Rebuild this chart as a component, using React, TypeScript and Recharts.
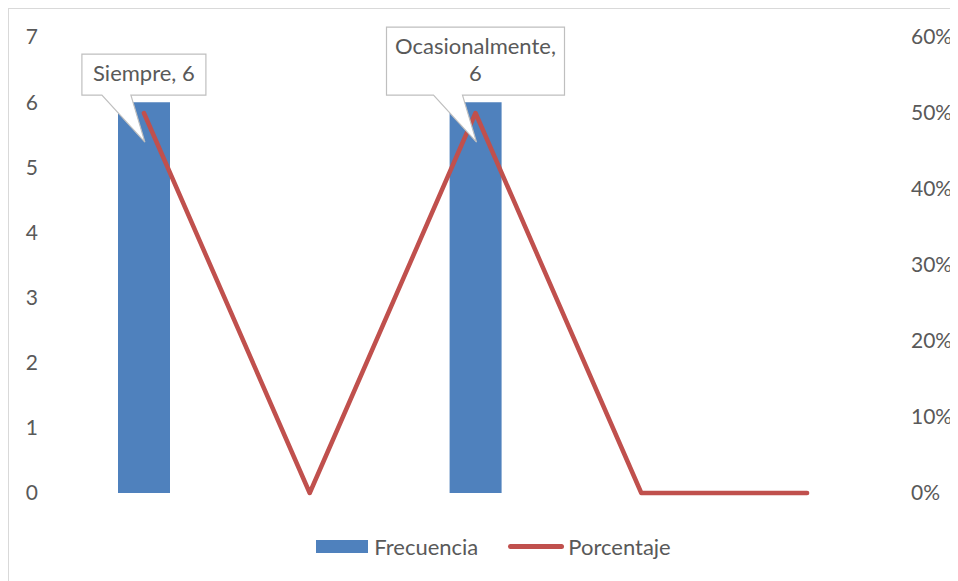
import { ComposedChart, Bar, Line, XAxis, YAxis, Legend, LabelList } from 'recharts';

// Datos
const categorias = ['Siempre', 'Casi siempre', 'Ocasionalmente', 'Casi nunca', 'Nunca'];
const frecuencia = [6, 0, 6, 0, 0];
const porcentaje = [0.5, 0, 0.5, 0, 0];

const ticksIzq = [0, 1, 2, 3, 4, 5, 6, 7];
const ticksDer = [0, 0.1, 0.2, 0.3, 0.4, 0.5, 0.6];

const data = categorias.map((c, i) => ({
  categoria: c,
  frecuencia: frecuencia[i],
  porcentaje: porcentaje[i],
}));

const AZUL = '#4F81BD';
const ROJO = '#C0504D';
const TEXTO = '#595959';
const FUENTE = 'Lato, "Open Sans", sans-serif';

// Globo de texto tipo Excel sobre la barra (x, y = centro y tope de la barra)
function Callout(props: any) {
  const { x, y, value, index } = props;
  if (!value) return null;
  const name = categorias[index];
  const cx = x;
  const full = `${name}, ${value}`;
  const lines = full.length > 12 ? [name + ',', String(value)] : [full];
  const longest = Math.max(...lines.map((l) => l.length));
  const boxW = longest * 10.8 + 16;
  const boxH = 14 + 27 * lines.length;
  const bottom = y - 7;
  const top = bottom - boxH;
  const left = cx - boxW / 2;
  const right = cx + boxW / 2;
  const d = `M${left},${top} H${right} V${bottom} H${cx - 13} L${cx + 1},${y + 40} L${cx - 42},${bottom} H${left} Z`;
  return (
    <g>
      <path d={d} fill="#fff" stroke="#BFBFBF" strokeWidth={1.2} />
      {lines.map((l, i) => (
        <text
          key={i}
          x={cx}
          y={top + 27 + 27 * i}
          textAnchor="middle"
          fill={TEXTO}
          fontSize={22}
          fontFamily={FUENTE}
        >
          {l}
        </text>
      ))}
    </g>
  );
}

function Leyenda() {
  const item = { display: 'flex', alignItems: 'center' } as const;
  return (
    <div
      style={{
        display: 'flex',
        justifyContent: 'center',
        alignItems: 'center',
        paddingLeft: 20,
        height: 30,
        fontFamily: FUENTE,
        fontSize: 22,
        color: TEXTO,
      }}
    >
      <div style={item}>
        <span style={{ width: 52, height: 13, background: AZUL, marginRight: 6 }} />
        <span>Frecuencia</span>
      </div>
      <div style={{ ...item, marginLeft: 30 }}>
        <span style={{ width: 56, height: 5, borderRadius: 3, background: ROJO, marginRight: 4 }} />
        <span>Porcentaje</span>
      </div>
    </div>
  );
}

export default function App() {
  return (
    <div style={{ width: 950, height: 573, overflow: 'hidden' }}>
      <div style={{ width: 960, height: 580, border: '1px solid #D9D9D9', background: '#fff' }}>
        <ComposedChart
          width={949}
          height={572}
          data={data}
          margin={{ top: 28, right: 0, left: 0, bottom: 58 }}
          barCategoryGap={0}
        >
          <XAxis dataKey="categoria" hide />
          <YAxis
            yAxisId="izq"
            width={52}
            domain={[0, 7]}
            ticks={ticksIzq}
            axisLine={false}
            tickLine={false}
            tickSize={0}
            tickMargin={23}
            tick={{ fill: TEXTO, fontSize: 21, fontFamily: FUENTE }}
          />
          <YAxis
            yAxisId="der"
            orientation="right"
            width={68}
            domain={[0, 0.6]}
            ticks={ticksDer}
            axisLine={false}
            tickLine={false}
            tickSize={0}
            tickMargin={21}
            tickFormatter={(v: number) => `${Math.round(v * 100)}%`}
            tick={{ fill: TEXTO, fontSize: 21, fontFamily: FUENTE, textAnchor: 'start' }}
          />
          <Legend
            content={() => <Leyenda />}
            verticalAlign="bottom"
            wrapperStyle={{ top: 522, bottom: 'auto', left: 0, width: 949 }}
          />
          <Bar
            yAxisId="izq"
            dataKey="frecuencia"
            name="Frecuencia"
            fill={AZUL}
            barSize={52}
            isAnimationActive={false}
          />
          <Line
            yAxisId="der"
            type="linear"
            dataKey="porcentaje"
            name="Porcentaje"
            stroke={ROJO}
            strokeWidth={4.5}
            strokeLinecap="round"
            strokeLinejoin="round"
            dot={false}
            activeDot={false}
            isAnimationActive={false}
          />
          {/* serie invisible que solo lleva las etiquetas, encima de todo */}
          <Line
            yAxisId="izq"
            dataKey="frecuencia"
            stroke="none"
            dot={false}
            activeDot={false}
            legendType="none"
            isAnimationActive={false}
          >
            <LabelList dataKey="frecuencia" content={(p: any) => <Callout {...p} />} />
          </Line>
        </ComposedChart>
      </div>
    </div>
  );
}
